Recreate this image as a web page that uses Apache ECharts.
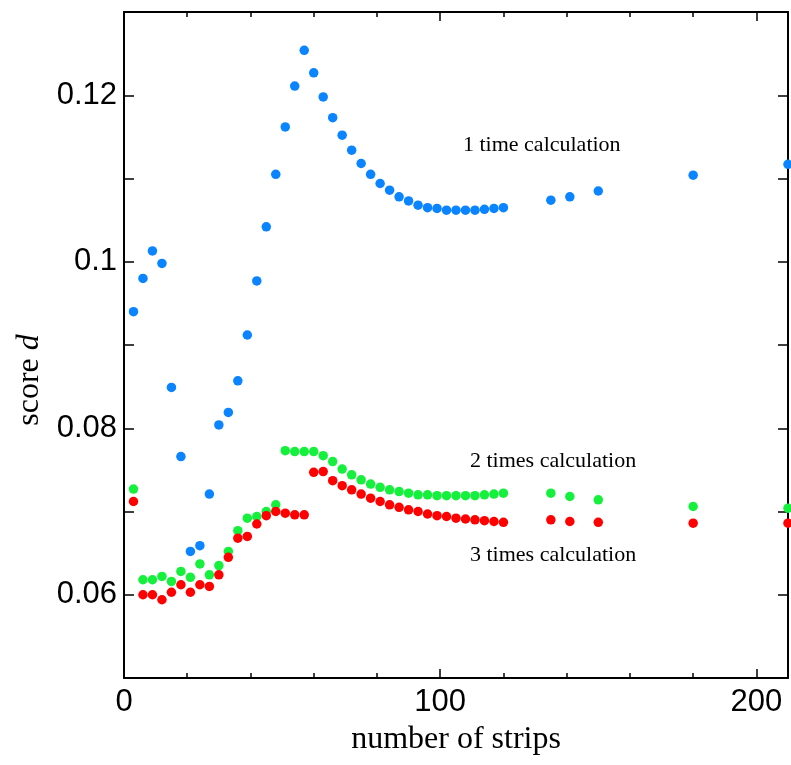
<!DOCTYPE html>
<html>
<head>
<meta charset="utf-8">
<script src="https://cdn.jsdelivr.net/npm/echarts@6/dist/echarts.min.js"></script>
<style>html,body{margin:0;padding:0;background:#fff;}#c{width:791px;height:765px;}</style>
</head>
<body>
<div id="c"></div>
<script>
const strips = [3,6,9,12,15,18,21,24,27,30,33,36,39,42,45,48,51,54,57,60,63,66,69,72,75,78,81,84,87,90,93,96,99,102,105,108,111,114,117,120,135,141,150,180,210];
const once = [0.0940,0.0980,0.1013,0.0998,0.0849,0.0766,0.0652,0.0659,0.0721,0.0804,0.0819,0.0857,0.0912,0.0977,0.1042,0.1105,0.1162,0.1211,0.1254,0.1227,0.1198,0.1173,0.1152,0.1134,0.1118,0.1105,0.1094,0.1086,0.1078,0.1073,0.1068,0.1065,0.1064,0.1062,0.1062,0.1062,0.1062,0.1063,0.1064,0.1065,0.1074,0.1078,0.1085,0.1104,0.1117];
const twice = [0.0727,0.0618,0.0618,0.0622,0.0616,0.0628,0.0621,0.0637,0.0624,0.0635,0.0652,0.0677,0.0692,0.0694,0.0700,0.0708,0.0773,0.0772,0.0772,0.0772,0.0767,0.0760,0.0751,0.0744,0.0738,0.0733,0.0729,0.0726,0.0724,0.0722,0.0720,0.0720,0.0719,0.0719,0.0719,0.0719,0.0719,0.0720,0.0721,0.0722,0.0722,0.0718,0.0714,0.0706,0.0704];
const thrice = [0.0712,0.0600,0.0600,0.0594,0.0603,0.0612,0.0603,0.0612,0.0610,0.0624,0.0645,0.0668,0.0670,0.0685,0.0695,0.0700,0.0698,0.0696,0.0696,0.0747,0.0748,0.0737,0.0731,0.0726,0.0721,0.0716,0.0712,0.0708,0.0705,0.0702,0.0700,0.0697,0.0695,0.0694,0.0692,0.0691,0.0690,0.0689,0.0688,0.0687,0.0690,0.0688,0.0687,0.0686,0.0686];
const seriesNames = ['1 time calculation','2 times calculation','3 times calculation'];
const seriesColors = ['#0a84ff','#14f03c','#ff0000'];
const xTickLabels = ['0','100','200'];
const yTickLabels = ['0.06','0.08','0.1','0.12'];

const pair = (ys) => strips.map((x, i) => [x, ys[i]]);
const lineStyle = {color:'#000', width:2};
const serif = 'Liberation Serif, Times New Roman, serif';
const sans = 'Liberation Sans, Arial, sans-serif';
const tickStyle = {color:'#000', width:1.5};
const chart = echarts.init(document.getElementById('c'));
chart.setOption({
  animation:false,
  backgroundColor:'#fff',
  grid:{left:124, right:2, top:12, bottom:87, containLabel:false},
  xAxis:[
    {type:'value', min:0, max:210, interval:20, position:'bottom',
     axisLine:{show:true, onZero:false, lineStyle}, splitLine:{show:false},
     axisTick:{show:true, inside:true, length:5, lineStyle:tickStyle},
     axisLabel:{margin:9, color:'#000', fontSize:31, fontFamily:sans,
       formatter:(v)=>{const s=String(Math.round(v)); return xTickLabels.includes(s)?s:'';}},
     name:'number of strips', nameLocation:'middle', nameGap:46,
     nameTextStyle:{color:'#000', fontSize:32, fontFamily:serif}},
    {type:'value', min:0, max:210, interval:100, position:'bottom',
     axisLine:{show:false, onZero:false}, splitLine:{show:false}, axisLabel:{show:false},
     axisTick:{show:true, inside:true, length:9, lineStyle:tickStyle}},
    {type:'value', min:0, max:210, interval:20, position:'top',
     axisLine:{show:true, onZero:false, lineStyle}, splitLine:{show:false}, axisLabel:{show:false},
     axisTick:{show:true, inside:true, length:5, lineStyle:tickStyle}},
    {type:'value', min:0, max:210, interval:100, position:'top',
     axisLine:{show:false, onZero:false}, splitLine:{show:false}, axisLabel:{show:false},
     axisTick:{show:true, inside:true, length:9, lineStyle:tickStyle}}
  ],
  yAxis:[
    {type:'value', min:0.05, max:0.13, interval:0.01, position:'left',
     axisLine:{show:true, onZero:false, lineStyle}, splitLine:{show:false},
     axisTick:{show:true, inside:true, length:10, lineStyle:tickStyle},
     axisLabel:{margin:7, color:'#000', fontSize:31, fontFamily:sans,
       formatter:(v)=>{const s=String(+v.toFixed(2)); return yTickLabels.includes(s)?s:'';}}},
    {type:'value', min:0.05, max:0.13, interval:0.01, position:'right',
     axisLine:{show:true, onZero:false, lineStyle}, splitLine:{show:false}, axisLabel:{show:false},
     axisTick:{show:true, inside:true, length:10, lineStyle:tickStyle}}
  ],
  graphic:[
    {type:'text', x:30, y:380, rotation:Math.PI/2, z:10,
     style:{text:'{a|score }{b|d}', align:'center', verticalAlign:'middle',
       rich:{a:{fontSize:32, fontFamily:serif, fill:'#000'},
             b:{fontSize:32, fontStyle:'italic', fontFamily:serif, fill:'#000'}}}},
    {type:'text', left:463, top:134, z:10,
     style:{text:seriesNames[0], fontSize:22, fontFamily:serif, fill:'#000'}},
    {type:'text', left:470, top:450, z:10,
     style:{text:seriesNames[1], fontSize:22, fontFamily:serif, fill:'#000'}},
    {type:'text', left:470, top:544, z:10,
     style:{text:seriesNames[2], fontSize:22, fontFamily:serif, fill:'#000'}}
  ],
  series:[once, twice, thrice].map((ys, i) => ({
    type:'scatter', name:seriesNames[i], data:pair(ys), symbol:'circle', symbolSize:9.5,
    xAxisIndex:0, yAxisIndex:0, clip:false,
    itemStyle:{color:seriesColors[i], opacity:1}
  }))
});
</script>
</body>
</html>
